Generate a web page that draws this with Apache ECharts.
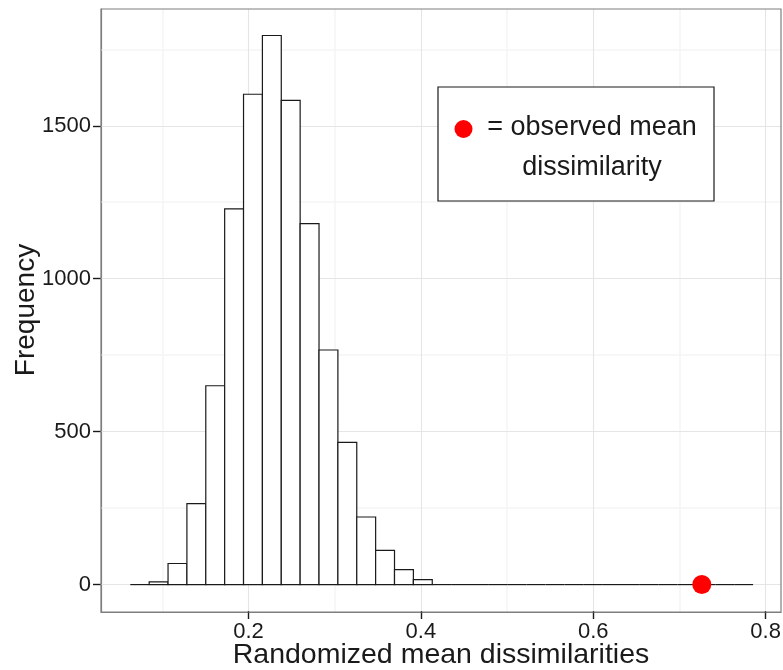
<!DOCTYPE html>
<html>
<head>
<meta charset="utf-8">
<script src="https://cdn.jsdelivr.net/npm/echarts@6/dist/echarts.min.js"></script>
<style>html,body{margin:0;padding:0;background:#fff}#chart{width:783px;height:670px}</style>
</head>
<body>
<div id="chart"></div>
<script>
// ---- data ----
const binStart = 0.0628;      // left edge of first histogram bin
const binWidth = 0.0219;      // histogram bin width
const counts = [0, 9, 69, 265, 650, 1228, 1603, 1795, 1583, 1180, 767, 465, 221, 112, 49, 16,
                0, 0, 0, 0, 0, 0, 0, 0, 0, 0, 0, 0, 0, 0, 0, 0, 0];
const observedMean = 0.726;
const xTicks = [0.2, 0.4, 0.6, 0.8];
const yTicks = [0, 500, 1000, 1500];
const xMinorGrid = [0.1, 0.3, 0.5, 0.7];
const yMinorGrid = [250, 750, 1250, 1750];
const xTitle = 'Randomized mean dissimilarities';
const yTitle = 'Frequency';
const legendLabel = '= observed mean\ndissimilarity';

const FONT = '"Liberation Sans", Arial, Helvetica, sans-serif';
const TXT = '#1a1a1a';
const X_MIN = 0.0288, X_MAX = 0.8179, Y_MIN = -89.6, Y_MAX = 1881.7;

const bins = counts.map((c, i) => [binStart + i * binWidth, binStart + (i + 1) * binWidth, c]);

const gridLines = [];
xMinorGrid.forEach(v => gridLines.push({xAxis: v, lineStyle: {color: '#f5f5f5', width: 1.5, type: 'solid'}}));
yMinorGrid.forEach(v => gridLines.push({yAxis: v, lineStyle: {color: '#f5f5f5', width: 1.5, type: 'solid'}}));
xTicks.forEach(v => gridLines.push({xAxis: v, lineStyle: {color: '#e5e5e5', width: 1.1, type: 'solid'}}));
yTicks.forEach(v => gridLines.push({yAxis: v, lineStyle: {color: '#e5e5e5', width: 1.1, type: 'solid'}}));

const tickStyle = {color: '#1a1a1a', width: 1.4, type: 'solid'};

const chart = echarts.init(document.getElementById('chart'), null, {renderer: 'canvas'});
const hiddenAxis = (min, max, gridIndex) => ({type: 'value', min: min, max: max, gridIndex: gridIndex, show: false,
  axisLine: {show: false}, axisTick: {show: false}, axisLabel: {show: false}, splitLine: {show: false}});
const option = {
  animation: false,
  backgroundColor: '#ffffff',
  textStyle: {fontFamily: FONT},
  grid: [
    {left: 101, right: 2, top: 9, bottom: 58, containLabel: false, outerBoundsMode: 'none',
     show: true, borderColor: '#7f7f7f', borderWidth: 1.2, backgroundColor: 'transparent', z: 10},
    // strip under the panel holding the x tick marks
    {left: 101, right: 2, top: 611, height: 8, containLabel: false, outerBoundsMode: 'none'},
    // strip left of the panel holding the y tick marks
    {left: 93, width: 8, top: 9, bottom: 58, containLabel: false, outerBoundsMode: 'none'}
  ],
  xAxis: [
    {
      type: 'value', min: X_MIN, max: X_MAX, gridIndex: 0,
      axisLine: {show: true, onZero: false, lineStyle: {color: '#7f7f7f', width: 1.2}},
      splitLine: {show: false},
      axisTick: {show: false},
      axisLabel: {customValues: xTicks, margin: 9, fontSize: 22, color: TXT, fontFamily: FONT,
                  formatter: v => String(v)}
    },
    hiddenAxis(X_MIN, X_MAX, 1),
    hiddenAxis(0, 1, 2)
  ],
  yAxis: [
    {
      type: 'value', min: Y_MIN, max: Y_MAX, gridIndex: 0,
      axisLine: {show: true, onZero: false, lineStyle: {color: '#7f7f7f', width: 1.2}},
      splitLine: {show: false},
      axisTick: {show: false},
      axisLabel: {customValues: yTicks, margin: 10, fontSize: 22, color: TXT, fontFamily: FONT,
                  formatter: v => String(v)}
    },
    hiddenAxis(0, 1, 1),
    hiddenAxis(Y_MIN, Y_MAX, 2)
  ],
  series: [
    {
      type: 'line', data: [], silent: true, z: 1,
      markLine: {silent: true, z: 1, symbol: ['none', 'none'], label: {show: false}, animation: false,
                 data: gridLines}
    },
    {
      type: 'custom', z: 3, silent: true,
      data: bins,
      encode: {x: [0, 1], y: 2},
      renderItem: function (params, api) {
        const x0 = api.value(0), x1 = api.value(1), c = api.value(2);
        const pTop = api.coord([x0, c]);
        const pBot = api.coord([x1, 0]);
        if (c > 0) {
          return {type: 'rect',
                  shape: {x: pTop[0], y: pTop[1], width: pBot[0] - pTop[0], height: pBot[1] - pTop[1]},
                  style: {fill: '#ffffff', stroke: '#1a1a1a', lineWidth: 1.2}};
        }
        return {type: 'line', shape: {x1: pTop[0], y1: pBot[1], x2: pBot[0], y2: pBot[1]},
                style: {stroke: '#1a1a1a', lineWidth: 1.2}};
      }
    },
    {
      type: 'scatter', z: 4, silent: true,
      data: [[observedMean, 0]],
      symbol: 'circle', symbolSize: 19,
      itemStyle: {color: '#ff0000', opacity: 1}
    },
    {
      type: 'line', data: [], silent: true, xAxisIndex: 1, yAxisIndex: 1,
      markLine: {silent: true, symbol: ['none', 'none'], label: {show: false}, animation: false,
                 lineStyle: tickStyle, data: xTicks.map(v => ({xAxis: v}))}
    },
    {
      type: 'line', data: [], silent: true, xAxisIndex: 2, yAxisIndex: 2,
      markLine: {silent: true, symbol: ['none', 'none'], label: {show: false}, animation: false,
                 lineStyle: tickStyle, data: yTicks.map(v => ({yAxis: v}))}
    }
  ],
  graphic: [
    {type: 'text', x: 441, y: 655,
      style: {text: xTitle, align: 'center', verticalAlign: 'middle', font: '28.5px ' + FONT, fill: TXT}},
    {type: 'text', x: 26, y: 310, rotation: Math.PI / 2,
      style: {text: yTitle, align: 'center', verticalAlign: 'middle', font: '28px ' + FONT, fill: TXT}},
    {type: 'rect', shape: {x: 438, y: 87, width: 276, height: 114},
      style: {fill: '#ffffff', stroke: '#1a1a1a', lineWidth: 1.2}, z: 20},
    {type: 'circle', shape: {cx: 463.5, cy: 129, r: 9}, style: {fill: '#ff0000'}, z: 21},
    {type: 'text', x: 592, y: 148, z: 21,
      style: {text: legendLabel, align: 'center', verticalAlign: 'middle', lineHeight: 40,
              font: '27px ' + FONT, fill: TXT}}
  ]
};
chart.setOption(option);
</script>
</body>
</html>
